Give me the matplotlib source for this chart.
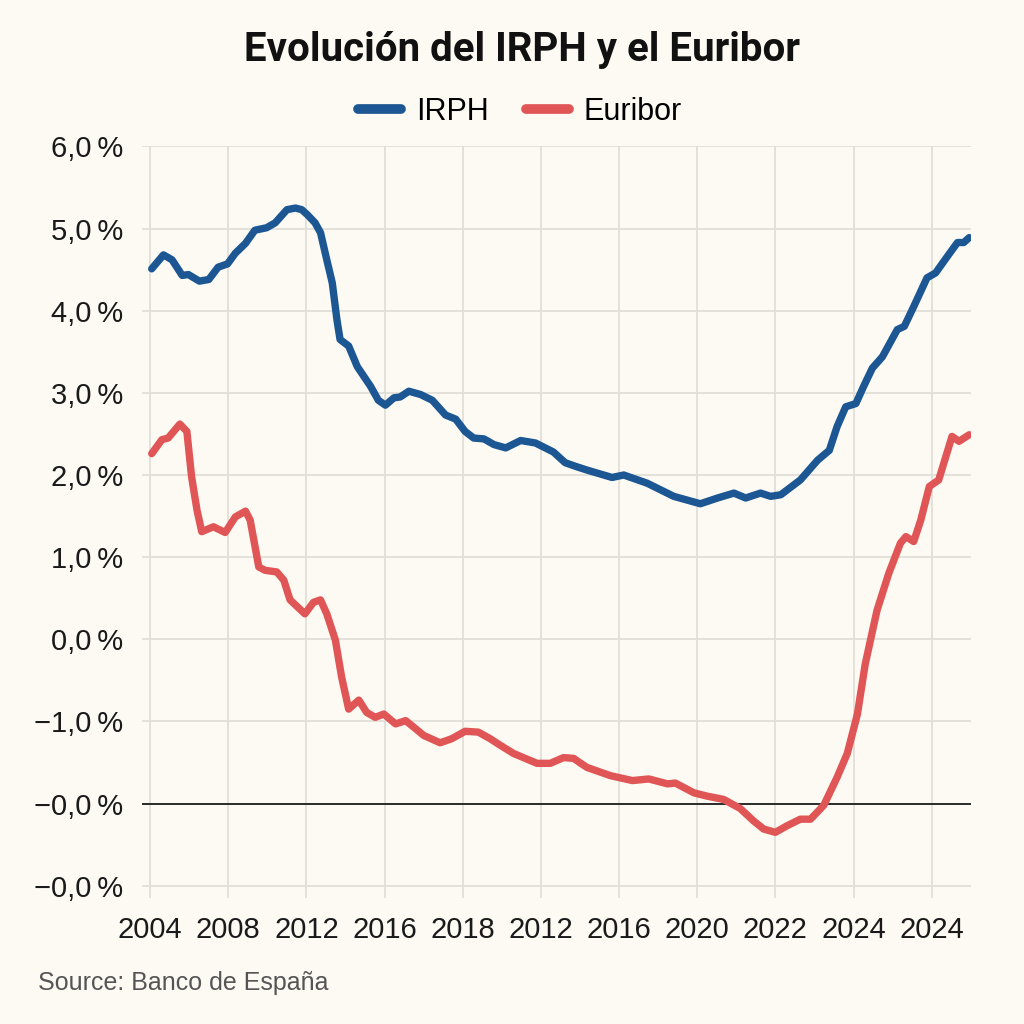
import numpy as np
import matplotlib
matplotlib.use("Agg")
import matplotlib.pyplot as plt

# ~~~~~~~~ data ~~~~~~~~
# x is the position along the axis in tick slots (0 = first tick, 10 = last tick)
xtick_labels = ["2004", "2008", "2012", "2016", "2018", "2012",
                "2016", "2020", "2022", "2024", "2024"]
ytick_vals = [6, 5, 4, 3, 2, 1, 0, -1, -2, -3]
ytick_labels = ["6,0\u2009%", "5,0\u2009%", "4,0\u2009%", "3,0\u2009%", "2,0\u2009%",
                "1,0\u2009%", "0,0\u2009%", "\u22121,0\u2009%", "\u22120,0\u2009%",
                "\u22120,0\u2009%"]

irph_x = [0.02, 0.17, 0.28, 0.41, 0.49, 0.63, 0.75, 0.87, 0.99, 1.09, 1.22,
          1.34, 1.49, 1.60, 1.75, 1.86, 1.94, 2.01, 2.11, 2.18, 2.26, 2.33,
          2.39, 2.43, 2.54, 2.65, 2.82, 2.92, 3.01, 3.12, 3.20, 3.31, 3.46,
          3.61, 3.78, 3.91, 4.03, 4.14, 4.27, 4.40, 4.55, 4.74, 4.93, 5.16,
          5.31, 5.46, 5.59, 5.91, 6.06, 6.36, 6.70, 7.04, 7.26, 7.47, 7.62,
          7.81, 7.94, 8.07, 8.32, 8.54, 8.69, 8.79, 8.90, 9.03, 9.13, 9.24,
          9.37, 9.56, 9.65, 9.77, 9.94, 10.05, 10.20, 10.33, 10.41, 10.48]
irph_y = [4.51, 4.68, 4.62, 4.43, 4.44, 4.36, 4.38, 4.53, 4.57, 4.70, 4.82,
          4.98, 5.01, 5.07, 5.23, 5.25, 5.23, 5.17, 5.07, 4.95, 4.62, 4.34,
          3.89, 3.65, 3.57, 3.32, 3.08, 2.91, 2.85, 2.94, 2.95, 3.02, 2.98,
          2.91, 2.73, 2.68, 2.53, 2.45, 2.44, 2.37, 2.33, 2.42, 2.39, 2.28,
          2.15, 2.10, 2.06, 1.97, 2.00, 1.90, 1.74, 1.65, 1.72, 1.78, 1.72,
          1.78, 1.74, 1.76, 1.94, 2.18, 2.30, 2.59, 2.83, 2.87, 3.08, 3.30,
          3.44, 3.77, 3.81, 4.05, 4.40, 4.46, 4.66, 4.83, 4.83, 4.89]

eur_x = [0.02, 0.15, 0.23, 0.38, 0.47, 0.53, 0.60, 0.66, 0.81, 0.96, 1.09,
         1.22, 1.28, 1.39, 1.47, 1.62, 1.71, 1.79, 1.98, 2.09, 2.18, 2.26,
         2.37, 2.45, 2.54, 2.67, 2.77, 2.88, 2.99, 3.14, 3.27, 3.50, 3.71,
         3.86, 4.03, 4.20, 4.35, 4.48, 4.65, 4.95, 5.12, 5.29, 5.42, 5.51,
         5.59, 5.89, 6.17, 6.38, 6.62, 6.72, 6.96, 7.13, 7.34, 7.55, 7.72,
         7.85, 8.00, 8.15, 8.32, 8.45, 8.62, 8.79, 8.92, 9.05, 9.15, 9.30,
         9.45, 9.60, 9.67, 9.77, 9.86, 9.97, 10.09, 10.26, 10.35, 10.48]
eur_y = [2.26, 2.43, 2.45, 2.62, 2.53, 1.98, 1.57, 1.31, 1.37, 1.30, 1.49,
         1.56, 1.45, 0.88, 0.84, 0.82, 0.72, 0.48, 0.31, 0.45, 0.48, 0.31,
         -0.01, -0.46, -0.85, -0.74, -0.89, -0.95, -0.91, -1.03, -0.99, -1.17, -1.26,
         -1.21, -1.12, -1.13, -1.21, -1.29, -1.39, -1.51, -1.51, -1.44, -1.45, -1.51,
         -1.56, -1.66, -1.72, -1.70, -1.76, -1.75, -1.87, -1.91, -1.95, -2.06, -2.21,
         -2.31, -2.35, -2.27, -2.19, -2.19, -2.02, -1.68, -1.39, -0.91, -0.30, 0.35,
         0.80, 1.17, 1.25, 1.19, 1.45, 1.86, 1.94, 2.47, 2.41, 2.49]

BG = "#fdfaf4"
BLUE = "#1c5793"
RED = "#e05555"

plt.rcParams['font.family'] = ['Liberation Sans', 'DejaVu Sans']

fig = plt.figure(figsize=(10.24, 10.24), dpi=100, facecolor=BG)
ax = fig.add_axes([0.139, 0.123, 0.809, 0.734])
ax.set_facecolor(BG)

ax.plot(irph_x, irph_y, color=BLUE, lw=5.3, solid_capstyle='round',
        solid_joinstyle='round', label="IRPH", zorder=3)
ax.plot(eur_x, eur_y, color=RED, lw=5.3, solid_capstyle='round',
        solid_joinstyle='round', label="Euribor", zorder=3)

# the dark reference line
ax.axhline(-2, color="#2b2b2b", lw=1.4, zorder=2)

ax.set_xlim(-0.1, 10.5)
ax.set_ylim(-3.15, 6.0)
ax.set_xticks(range(len(xtick_labels)))
ax.set_xticklabels(xtick_labels)
ax.set_yticks(ytick_vals)
ax.set_yticklabels(ytick_labels)
ax.tick_params(axis='both', length=0, labelsize=21, colors="#1a1a1a")
ax.tick_params(axis='y', pad=14)
ax.tick_params(axis='x', pad=13)
ax.grid(True, color="#e2dfd9", lw=1.3, zorder=0)
for s in ax.spines.values():
    s.set_visible(False)

fig.text(0.51, 0.951, "Evolución del IRPH y el Euribor", ha='center', va='center',
         fontsize=29, fontweight='bold', family=['Roboto', 'DejaVu Sans'], color="#111111")
leg = fig.legend(loc='center', bbox_to_anchor=(0.508, 0.891), ncol=2, frameon=False,
                 fontsize=22, handlelength=1.4, handletextpad=0.5, columnspacing=1.2)
for line in leg.get_lines():
    line.set_linewidth(7)

fig.text(0.037, 0.04, "Source: Banco de España", fontsize=18, color="#555555",
         ha='left', va='center')

fig.savefig("out.png", dpi=100, facecolor=BG)
